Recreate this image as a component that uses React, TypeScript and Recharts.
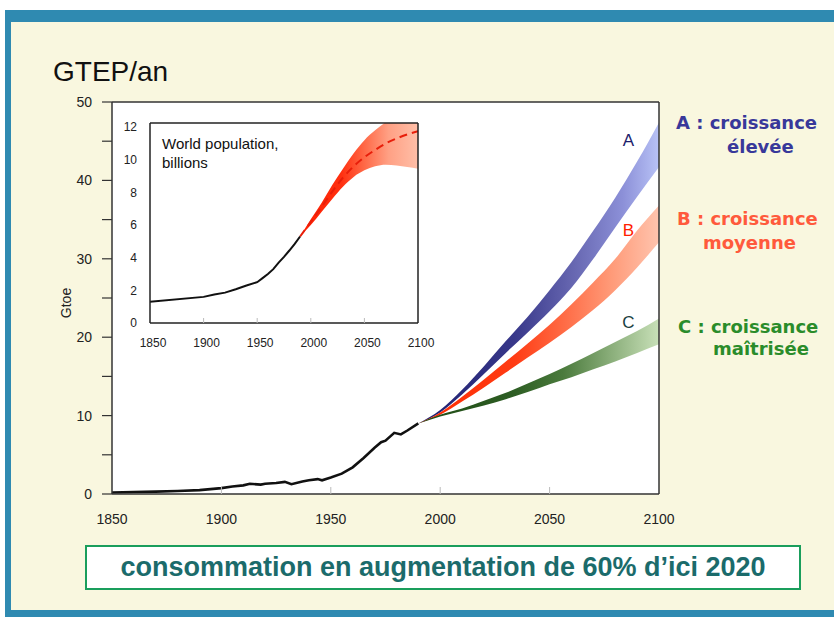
import React from "react";
import {
  ComposedChart,
  Area,
  Line,
  XAxis,
  YAxis,
  CartesianGrid,
  ReferenceLine,
  ReferenceDot,
} from "recharts";

// historical world energy use, Gtoe
const histYears = [1850, 1860, 1870, 1880, 1890, 1900, 1905, 1910, 1913, 1918, 1920, 1925, 1929, 1932, 1937, 1940, 1944, 1946, 1950, 1955, 1960, 1965, 1970, 1973, 1975, 1979, 1982, 1985, 1990];
const histGtoe = [0.2, 0.25, 0.3, 0.38, 0.5, 0.75, 0.95, 1.1, 1.3, 1.2, 1.3, 1.4, 1.55, 1.25, 1.6, 1.75, 1.9, 1.75, 2.1, 2.6, 3.4, 4.6, 5.9, 6.6, 6.8, 7.8, 7.6, 8.1, 9.0];

// scenario bands (low / high)
const scenYears = [1990, 2000, 2010, 2020, 2030, 2040, 2050, 2060, 2070, 2080, 2090, 2100];
const aLow = [9.0, 10.4, 12.7, 15.3, 18.0, 20.6, 23.3, 26.3, 30.0, 34.0, 37.9, 41.7];
const aHigh = [9.0, 10.7, 13.3, 16.3, 19.5, 22.6, 26.0, 29.6, 33.6, 37.8, 42.4, 47.4];
const bLow = [9.0, 10.1, 11.8, 13.6, 15.5, 17.4, 19.3, 21.3, 23.5, 26.0, 28.9, 32.1];
const bHigh = [9.0, 10.4, 12.4, 14.6, 16.9, 19.2, 21.6, 24.2, 27.0, 30.0, 33.6, 36.8];
const cLow = [9.0, 9.9, 10.6, 11.3, 12.1, 13.0, 14.0, 14.9, 15.9, 16.9, 18.0, 19.1];
const cHigh = [9.0, 10.1, 10.9, 11.9, 12.9, 14.1, 15.3, 16.6, 18.0, 19.4, 20.8, 22.4];

// inset: world population, billions
const popYears = [1850, 1900, 1910, 1920, 1930, 1940, 1950, 1955, 1960, 1965, 1970, 1975, 1980, 1985, 1990];
const popHist = [1.3, 1.6, 1.75, 1.86, 2.07, 2.3, 2.5, 2.75, 3.0, 3.3, 3.7, 4.05, 4.44, 4.85, 5.3];
const projYears = [1990, 2000, 2010, 2020, 2030, 2040, 2050, 2060, 2070, 2080, 2090, 2100];
const popLow = [5.3, 6.0, 6.8, 7.6, 8.35, 8.95, 9.35, 9.6, 9.7, 9.65, 9.55, 9.45];
const popMid = [5.3, 6.2, 7.1, 8.05, 8.9, 9.6, 10.15, 10.6, 11.0, 11.3, 11.55, 11.75];
const popHigh = [5.3, 6.35, 7.35, 8.45, 9.45, 10.4, 11.2, 11.8, 12.3, 12.6, 12.8, 12.9];

const yearTicks = [1850, 1900, 1950, 2000, 2050, 2100];
const gtoeTicks = [0, 5, 10, 15, 20, 25, 30, 35, 40, 45, 50];
const rightTicks = [5, 10, 15, 20, 25, 30, 35, 40, 45];
const popTicks = [0, 2, 4, 6, 8, 10, 12];

const merge = (parts: { years: number[]; fields: Record<string, any[]> }[]) => {
  const rows = new Map<number, any>();
  parts.forEach(({ years, fields }) => {
    years.forEach((y, i) => {
      const row = rows.get(y) || { year: y };
      Object.keys(fields).forEach((k) => (row[k] = fields[k][i]));
      rows.set(y, row);
    });
  });
  return [...rows.values()].sort((p, q) => p.year - q.year);
};

const mainData = merge([
  { years: histYears, fields: { hist: histGtoe } },
  {
    years: scenYears,
    fields: {
      a: scenYears.map((_, i) => [aLow[i], aHigh[i]]),
      b: scenYears.map((_, i) => [bLow[i], bHigh[i]]),
      c: scenYears.map((_, i) => [cLow[i], cHigh[i]]),
    },
  },
]);

const popData = merge([
  { years: popYears, fields: { hist: popHist } },
  {
    years: projYears,
    fields: { range: projYears.map((_, i) => [popLow[i], popHigh[i]]), mid: popMid },
  },
]);

const sans = "'Liberation Sans', Arial, Helvetica, sans-serif";

const MainXTick = (props: any) => {
  const { x, y, payload } = props;
  const edge = payload.value === 1850 || payload.value === 2100;
  return (
    <g>
      {!edge && <line x1={x} x2={x} y1={y} y2={y - 7} stroke="#bbb" strokeWidth={1} />}
      <text x={x} y={y + 30} textAnchor="middle" fontSize={14} fill="#222" fontFamily={sans}>
        {payload.value}
      </text>
    </g>
  );
};

const InsetXTick = (props: any) => {
  const { x, y, payload } = props;
  const edge = payload.value === 1850 || payload.value === 2100;
  return (
    <g>
      {!edge && <line x1={x} x2={x} y1={y} y2={y - 5} stroke="#bbb" strokeWidth={1} />}
      <text x={x + 3} y={y + 24} textAnchor="middle" fontSize={12} fill="#222" fontFamily={sans}>
        {payload.value}
      </text>
    </g>
  );
};

const SideLabel = ({ x, cy, color, children }: any) => (
  <div
    style={{
      position: "absolute",
      left: x,
      top: cy - 11,
      lineHeight: "22px",
      fontSize: 18,
      fontWeight: "bold",
      fontFamily: "'DejaVu Sans', Verdana, sans-serif",
      color,
      whiteSpace: "nowrap",
    }}
  >
    {children}
  </div>
);

export default function App() {
  return (
    <div style={{ position: "absolute", left: 0, top: 0, width: 834, height: 617, background: "#fff", overflow: "hidden" }}>
      {/* frame */}
      <div
        style={{
          position: "absolute",
          left: 5,
          top: 10,
          width: 829,
          height: 607,
          boxSizing: "border-box",
          background: "#f9f7df",
          borderLeft: "6px solid #2f8ab1",
          borderTop: "12px solid #2f8ab1",
          borderBottom: "7px solid #2f8ab1",
        }}
      />

      <div style={{ position: "absolute", left: 53, top: 52, fontSize: 28, lineHeight: "40px", fontFamily: sans, color: "#111" }}>
        GTEP/an
      </div>

      <div style={{ position: "absolute", left: 0, top: 0 }}>
        <ComposedChart
          width={834}
          height={617}
          data={mainData}
          margin={{ top: 102, right: 155, bottom: 83, left: 52 }}
        >
          <defs>
            <linearGradient id="gradA" x1="0" y1="0" x2="1" y2="0">
              <stop offset="0" stopColor="#1e1e6e" />
              <stop offset="0.4" stopColor="#38388a" />
              <stop offset="0.65" stopColor="#6868b2" />
              <stop offset="0.85" stopColor="#8c90d8" />
              <stop offset="1" stopColor="#b8c2f6" />
            </linearGradient>
            <linearGradient id="gradB" x1="0" y1="0" x2="1" y2="0">
              <stop offset="0" stopColor="#ff2a00" />
              <stop offset="0.4" stopColor="#ff3c14" />
              <stop offset="0.6" stopColor="#ff6a44" />
              <stop offset="0.8" stopColor="#ff9a78" />
              <stop offset="1" stopColor="#ffc4ae" />
            </linearGradient>
            <linearGradient id="gradC" x1="0" y1="0" x2="1" y2="0">
              <stop offset="0" stopColor="#1e4a14" />
              <stop offset="0.4" stopColor="#2e5e24" />
              <stop offset="0.6" stopColor="#4a7a3c" />
              <stop offset="0.8" stopColor="#8aae7a" />
              <stop offset="1" stopColor="#c8e0b8" />
            </linearGradient>
          </defs>
          <CartesianGrid horizontal={false} vertical={false} fill="#ffffff" />
          <XAxis
            dataKey="year"
            type="number"
            domain={[1850, 2100]}
            ticks={yearTicks}
            allowDataOverflow
            height={40}
            tickSize={0}
            tickMargin={0}
            axisLine={{ stroke: "#333", strokeWidth: 1.5 }}
            tickLine={false}
            tick={(p: any) => <MainXTick {...p} />}
          />
          <YAxis
            domain={[0, 50]}
            ticks={gtoeTicks}
            width={60}
            tickSize={10}
            tickMargin={10}
            interval={0}
            axisLine={{ stroke: "#333", strokeWidth: 1.5 }}
            tickLine={{ stroke: "#333", strokeWidth: 1.2 }}
            tickFormatter={(v: number) => (v % 10 === 0 ? String(v) : "")}
            tick={{ fontSize: 14, fill: "#222", fontFamily: sans }}
          />
          <YAxis
            yAxisId="r"
            orientation="right"
            domain={[0, 50]}
            ticks={rightTicks}
            width={20}
            tickSize={13}
            interval={0}
            axisLine={{ stroke: "#333", strokeWidth: 1.5 }}
            tickLine={{ stroke: "#333", strokeWidth: 1.2 }}
            tickFormatter={() => ""}
          />
          <ReferenceLine y={50} stroke="#333" strokeWidth={1.5} />
          <Area dataKey="a" type="monotone" stroke="none" fill="url(#gradA)" fillOpacity={1} isAnimationActive={false} />
          <Area dataKey="b" type="monotone" stroke="none" fill="url(#gradB)" fillOpacity={1} isAnimationActive={false} />
          <Area dataKey="c" type="monotone" stroke="none" fill="url(#gradC)" fillOpacity={1} isAnimationActive={false} />
          <Line dataKey="hist" type="linear" stroke="#111" strokeWidth={2.6} dot={false} isAnimationActive={false} />
          <ReferenceDot x={2086} y={45.2} r={0} fill="none" stroke="none" label={{ value: "A", position: "center", fill: "#1c1c6c", fontSize: 17, fontFamily: sans }} />
          <ReferenceDot x={2086} y={33.7} r={0} fill="none" stroke="none" label={{ value: "B", position: "center", fill: "#ff2000", fontSize: 17, fontFamily: sans }} />
          <ReferenceDot x={2086} y={21.9} r={0} fill="none" stroke="none" label={{ value: "C", position: "center", fill: "#1a4040", fontSize: 17, fontFamily: sans }} />
        </ComposedChart>
      </div>

      {/* inset: world population */}
      <div style={{ position: "absolute", left: 100, top: 110 }}>
        <ComposedChart
          width={340}
          height={260}
          data={popData}
          margin={{ top: 13, right: 22, bottom: 17, left: 10 }}
        >
          <defs>
            <linearGradient id="gradPop" x1="0" y1="0" x2="1" y2="0">
              <stop offset="0" stopColor="#ff1e00" />
              <stop offset="0.35" stopColor="#ff3010" />
              <stop offset="0.55" stopColor="#ff6a48" />
              <stop offset="0.75" stopColor="#ffa084" />
              <stop offset="1" stopColor="#ffbfa8" />
            </linearGradient>
          </defs>
          <CartesianGrid horizontal={false} vertical={false} fill="#ffffff" />
          <XAxis
            dataKey="year"
            type="number"
            domain={[1850, 2100]}
            ticks={yearTicks}
            allowDataOverflow
            height={30}
            tickSize={0}
            tickMargin={0}
            axisLine={{ stroke: "#222", strokeWidth: 1.5 }}
            tickLine={false}
            tick={(p: any) => <InsetXTick {...p} />}
          />
          <YAxis
            domain={[0, 12.25]}
            ticks={popTicks}
            allowDataOverflow
            width={40}
            tickSize={0}
            tickMargin={13}
            interval={0}
            axisLine={{ stroke: "#222", strokeWidth: 1.5 }}
            tickLine={false}
            tick={{ fontSize: 12, fill: "#222", fontFamily: sans }}
          />
          <YAxis
            yAxisId="r"
            orientation="right"
            mirror
            domain={[0, 12.25]}
            ticks={[2, 4, 6, 8, 10]}
            width={30}
            tickSize={5}
            interval={0}
            axisLine={{ stroke: "#222", strokeWidth: 1.5 }}
            tickLine={{ stroke: "#bbb" }}
            tickFormatter={() => ""}
          />
          <ReferenceLine y={12.25} stroke="#222" strokeWidth={1.5} />
          <Area dataKey="range" type="monotone" stroke="none" fill="url(#gradPop)" fillOpacity={1} isAnimationActive={false} />
          <Line dataKey="mid" type="monotone" stroke="#e81e0a" strokeWidth={2} strokeDasharray="8 5" dot={false} isAnimationActive={false} />
          <Line dataKey="hist" type="linear" stroke="#111" strokeWidth={2} dot={false} isAnimationActive={false} />
        </ComposedChart>
      </div>

      <div style={{ position: "absolute", left: 162, top: 134, fontSize: 15, lineHeight: "19px", fontFamily: sans, color: "#111" }}>
        World population,
        <br />
        billions
      </div>

      <div
        style={{
          position: "absolute",
          left: 66,
          top: 303,
          transform: "translate(-50%, -50%) rotate(-90deg)",
          fontSize: 14,
          fontFamily: sans,
          color: "#222",
        }}
      >
        Gtoe
      </div>

      <SideLabel x={676} cy={123} color="#38389a">A : croissance</SideLabel>
      <SideLabel x={727} cy={147} color="#38389a">élevée</SideLabel>
      <SideLabel x={677} cy={219} color="#ff5a3c">B : croissance</SideLabel>
      <SideLabel x={703} cy={243} color="#ff5a3c">moyenne</SideLabel>
      <SideLabel x={678} cy={327} color="#2a8c2a">C : croissance</SideLabel>
      <SideLabel x={713} cy={349} color="#2a8c2a">maîtrisée</SideLabel>

      <div
        style={{
          position: "absolute",
          left: 85,
          top: 545,
          width: 716,
          height: 45,
          boxSizing: "border-box",
          border: "2px solid #1a9e5c",
          background: "#fff",
          textAlign: "center",
          lineHeight: "41px",
          fontSize: 27,
          fontWeight: "bold",
          fontFamily: sans,
          color: "#1b6b6b",
          whiteSpace: "nowrap",
        }}
      >
        consommation en augmentation de 60% d’ici 2020
      </div>
    </div>
  );
}
